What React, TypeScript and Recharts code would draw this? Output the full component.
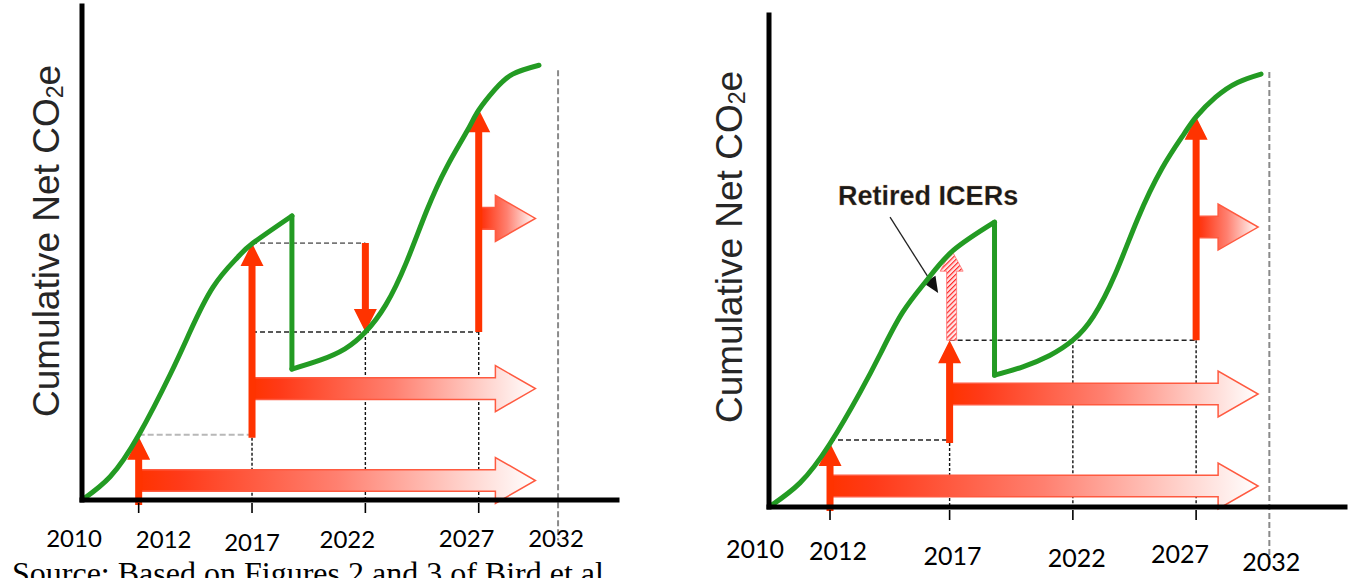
import React from 'react';
import { ComposedChart, Line, XAxis, YAxis, ReferenceLine, ReferenceDot } from 'recharts';

// ---------------- data ----------------
const yearLabels = ['2010', '2012', '2017', '2022', '2027', '2032'];
const leftTickPos = [0, 2.5, 7.5, 12.5, 17.5, 21];
const rightTickPos = [0, 2.5, 7.4, 12.45, 17.5, 20.5];
const tickHasMark = [false, true, true, true, true, false];

const leftRise = [
  { x: 0, y: 0 }, { x: 1.24, y: 4.7 }, { x: 2.51, y: 13.2 }, { x: 3.9, y: 25.5 },
  { x: 4.76, y: 34.0 }, { x: 5.78, y: 43.1 }, { x: 6.84, y: 49.0 }, { x: 7.54, y: 52.0 },
  { x: 9.26, y: 57.5 },
];
const leftDrop = [{ x: 9.26, y: 57.5 }, { x: 9.26, y: 26.5 }];
const leftAfter = [
  { x: 9.26, y: 26.5 }, { x: 10.5, y: 28.3 }, { x: 11.6, y: 30.6 }, { x: 12.5, y: 34.0 },
  { x: 13.4, y: 39.5 }, { x: 14.3, y: 48.0 }, { x: 15.2, y: 58.5 }, { x: 16.1, y: 67.5 },
  { x: 17.0, y: 74.8 }, { x: 17.5, y: 78.9 }, { x: 18.2, y: 83.0 }, { x: 19.0, y: 86.2 },
  { x: 20.16, y: 88.0 },
];

const rightRise = [
  { x: 0, y: 0 }, { x: 1.27, y: 4.9 }, { x: 2.49, y: 12.8 }, { x: 3.72, y: 23.2 },
  { x: 4.58, y: 31.3 }, { x: 5.48, y: 39.6 }, { x: 6.5, y: 46.3 }, { x: 7.56, y: 52.2 },
  { x: 9.24, y: 57.9 },
];
const rightDrop = [{ x: 9.24, y: 57.9 }, { x: 9.24, y: 26.8 }];
const rightAfter = [
  { x: 9.24, y: 26.8 }, { x: 10.4, y: 28.5 }, { x: 11.5, y: 30.8 }, { x: 12.45, y: 33.9 },
  { x: 13.3, y: 38.8 }, { x: 14.2, y: 47.5 }, { x: 15.1, y: 58.5 }, { x: 16.1, y: 68.8 },
  { x: 17.0, y: 75.8 }, { x: 17.5, y: 79.3 }, { x: 18.3, y: 83.3 }, { x: 19.2, y: 86.3 },
  { x: 20.16, y: 88.0 },
];

// vertical arrows: x, from (tail y), to (tip y)
const leftVArrows = [
  { x: 2.5, from: -1, to: 12.8 },
  { x: 7.5, from: 12.6, to: 52 },
  { x: 12.5, from: 52, to: 34 },
  { x: 17.5, from: 34, to: 79.1 },
];
const rightVArrows = [
  { x: 2.5, from: -0.8, to: 13 },
  { x: 7.4, from: 13, to: 33.9 },
  { x: 17.5, from: 33.9, to: 79.3 },
];
const rightRetired = [{ x: 7.4, from: 33.9, to: 52.2 }];

// horizontal flow arrows: y, from (tail x), to (tip x)
const leftFlows = [
  { y: 3.95, from: 2.5, to: 20.0 },
  { y: 22.55, from: 7.5, to: 20.0 },
  { y: 57, from: 17.5, to: 20.0 },
];
const rightFlows = [
  { y: 4.27, from: 2.5, to: 20.04 },
  { y: 22.97, from: 7.4, to: 20.04 },
  { y: 56.9, from: 17.5, to: 20.04 },
];

// guide (dashed) lines
const leftGuides = [
  { x1: 2.5, y1: 13.2, x2: 7.5, y2: 13.2, kind: 'light' },
  { x1: 7.5, y1: 52, x2: 12.5, y2: 52, kind: 'grey' },
  { x1: 7.5, y1: 34, x2: 17.5, y2: 34, kind: 'dark' },
  { x1: 7.5, y1: 12.6, x2: 7.5, y2: 0, kind: 'vert' },
  { x1: 12.5, y1: 34, x2: 12.5, y2: 0, kind: 'vert' },
  { x1: 17.5, y1: 34, x2: 17.5, y2: 0, kind: 'vert' },
  { x1: 21, y1: 87, x2: 21, y2: -8.2, kind: 'end' },
];
const rightGuides = [
  { x1: 2.5, y1: 13.6, x2: 7.4, y2: 13.6, kind: 'dark' },
  { x1: 7.4, y1: 33.9, x2: 17.5, y2: 33.9, kind: 'dark' },
  { x1: 7.4, y1: 13, x2: 7.4, y2: 0, kind: 'vert' },
  { x1: 12.45, y1: 33.9, x2: 12.45, y2: 0, kind: 'vert' },
  { x1: 17.5, y1: 33.9, x2: 17.5, y2: 0, kind: 'vert' },
  { x1: 20.5, y1: 88.4, x2: 20.5, y2: -11.8, kind: 'end' },
];

const retiredLabel = { text: 'Retired ICERs', x: 6.52, y: 63.2 };
const retiredPointer = { x1: 4.96, y1: 58.9, x2: 6.93, y2: 43.5 };
const sourceText = 'Source: Based on Figures 2 and 3 of Bird et al';

// ---------------- styles ----------------
const GREEN = '#239b23';
const RED = '#ff3300';
const guideStyle: Record<string, any> = {
  light: { stroke: '#b8b8b8', strokeWidth: 2, dash: '6 3' },
  grey: { stroke: '#777', strokeWidth: 1.6, dash: '5 3' },
  dark: { stroke: '#222', strokeWidth: 1.5, dash: '5 3' },
  vert: { stroke: '#111', strokeWidth: 1.4, dash: '3 2' },
  end: { stroke: '#8a8a8a', strokeWidth: 2, dash: '6 3' },
};
const leftLabelDx = [-8, 25, 0, -18, -12, -2];
const leftLabelDy = [37, 38, 41, 38, 37, 37];
const rightLabelDx = [-14, 8, 3, 4, -16, 2];
const rightLabelDy = [41, 43, 48, 50, 46, 54];
const AXIS_H = 30;
const AXIS_W = 60;

// ---------------- shapes ----------------
const VArrow = (p: any) => {
  const { x1, y1, y2 } = p;
  const x = x1;
  const w = 3.5, hw = 11.5, hl = 23;
  const s = y2 < y1 ? 1 : -1;
  const hb = y2 + s * hl;
  const d = `M${x - w},${y1} L${x - w},${hb} L${x - hw},${hb} L${x},${y2} L${x + hw},${hb} L${x + w},${hb} L${x + w},${y1} Z`;
  return <path d={d} fill={RED} stroke="none" />;
};

const HatchArrow = (p: any) => {
  const { x1, y1, y2 } = p;
  const x = x1 + 2;
  const w = 5, hw = 11.5, hl = 21;
  const hb = y2 + hl;
  const id = 'hatch-' + Math.round(x) + '-' + Math.round(y2);
  const d = `M${x - w},${y1} L${x - w},${hb} L${x - hw},${hb} L${x},${y2} L${x + hw},${hb} L${x + w},${hb} L${x + w},${y1} Z`;
  return (
    <g>
      <defs>
        <pattern id={id} patternUnits="userSpaceOnUse" width="3.5" height="3.5" patternTransform="rotate(45)">
          <rect width="3.5" height="3.5" fill="#ffe6e6" />
          <line x1="0" y1="0" x2="0" y2="3.5" stroke="#ff2a2a" strokeWidth="2.4" />
        </pattern>
      </defs>
      <path d={d} fill={`url(#${id})`} stroke="#ff7070" strokeWidth={0.8} />
    </g>
  );
};

const FlowArrow = (p: any) => {
  const { x1, y1, x2 } = p;
  const y = y1;
  const s = 10.8, h = 23, hl = 40;
  const hb = x2 - hl;
  const id = 'flow-' + Math.round(x1) + '-' + Math.round(y);
  const d = `M${x1},${y - s} L${hb},${y - s} L${hb},${y - h} L${x2},${y} L${hb},${y + h} L${hb},${y + s} L${x1},${y + s} Z`;
  return (
    <g>
      <defs>
        <linearGradient id={id} gradientUnits="userSpaceOnUse" x1={x1} y1={y} x2={x2} y2={y}>
          <stop offset="0" stopColor="#ff3300" />
          <stop offset="0.1" stopColor="#ff3a18" />
          <stop offset="0.5" stopColor="#ff8070" />
          <stop offset="0.8" stopColor="#ffcdc6" />
          <stop offset="1" stopColor="#ffffff" />
        </linearGradient>
      </defs>
      <path d={d} fill={`url(#${id})`} stroke="#ff5a40" strokeWidth={1.5} />
    </g>
  );
};

const Guide = (kind: string) => (p: any) => {
  const st = guideStyle[kind];
  return <line x1={p.x1} y1={p.y1} x2={p.x2} y2={p.y2} stroke={st.stroke} strokeWidth={st.strokeWidth} strokeDasharray={st.dash} />;
};

const Pointer = (p: any) => {
  const { x1, y1, x2, y2 } = p;
  const ang = Math.atan2(y2 - y1, x2 - x1);
  const L = 16, W = 7;
  const bx = x2 - L * Math.cos(ang), by = y2 - L * Math.sin(ang);
  const nx = -Math.sin(ang) * W, ny = Math.cos(ang) * W;
  return (
    <g>
      <line x1={x1} y1={y1} x2={bx} y2={by} stroke="#222" strokeWidth={1.3} />
      <path d={`M${x2},${y2} L${bx + nx},${by + ny} L${bx - nx},${by - ny} Z`} fill="#111" />
    </g>
  );
};

const LabelShape = (text: string) => (p: any) => (
  <text x={p.cx} y={p.cy} textAnchor="middle" dominantBaseline="central"
    fontFamily="'Liberation Sans', Arial, sans-serif" fontWeight="bold" fontSize={27} fill="#1a1a1a"
    stroke="#d9a066" strokeWidth={0.4} strokeOpacity={0.6}>
    {text}
  </text>
);

const makeTick = (positions: number[], dxs: number[], dys: number[], fontSize: number) => (p: any) => {
  const v = p.payload ? p.payload.value : undefined;
  let i = positions.indexOf(v);
  if (i < 0) i = p.index ?? 0;
  const x = p.x, y = p.y;
  return (
    <g>
      {tickHasMark[i] ? <line x1={x} y1={y + 3} x2={x} y2={y + 13} stroke="#000" strokeWidth={1.6} /> : null}
      <text x={x + dxs[i]} y={y + dys[i]} textAnchor="middle" dominantBaseline="central"
        fontFamily="Lato, 'Open Sans', sans-serif" fontSize={fontSize} fill="#000">
        {yearLabels[i]}
      </text>
    </g>
  );
};

const yTitle = (dx: number, dy: number) => (props: any) => {
  const vb = props.viewBox || { x: 0, y: 0, width: 0, height: 0 };
  const cx = vb.x + dx;
  const cy = vb.y + vb.height / 2 + dy;
  return (
    <text x={cx} y={cy} transform={`rotate(-90 ${cx} ${cy})`} textAnchor="middle" dominantBaseline="central"
      fontFamily="'Liberation Sans', Arial, sans-serif" fontSize={37} fill="#262626">
      Cumulative Net CO<tspan fontSize={23} dy={8}>2</tspan><tspan dy={-8}>e</tspan>
    </text>
  );
};

type PanelProps = {
  left: number; width: number; margin: any; ticks: number[]; dxs: number[]; dys: number[]; fontSize: number;
  titleDx: number; titleDy: number;
  rise: any[]; drop: any[]; after: any[];
  vArrows: any[]; flows: any[]; guides: any[]; retired?: any[]; showRetired?: boolean;
};

const axisLineStyle = { stroke: '#000', strokeWidth: 5, strokeLinecap: 'square' as const };

function Panel(props: PanelProps) {
  const { left, width, margin, ticks, dxs, dys, fontSize, titleDx, titleDy, rise, drop, after, vArrows, flows, guides, retired, showRetired } = props;
  return (
    <div style={{ position: 'absolute', left, top: 0 }}>
      <ComposedChart width={width} height={578} margin={margin}>
        <XAxis type="number" dataKey="x" domain={[0, 23.6]} ticks={ticks} interval={0} allowDataOverflow
          height={AXIS_H} tickSize={0} tickMargin={0} tickLine={false} axisLine={axisLineStyle}
          tick={makeTick(ticks, dxs, dys, fontSize)} />
        <YAxis type="number" domain={[0, 100]} width={AXIS_W} tick={false} tickLine={false} allowDataOverflow
          axisLine={axisLineStyle} label={{ content: yTitle(titleDx, titleDy) }} />
        {guides.map((g, i) => (
          <ReferenceLine key={'g' + i} segment={[{ x: g.x1, y: g.y1 }, { x: g.x2, y: g.y2 }]} ifOverflow="visible" shape={Guide(g.kind)} />
        ))}
        {flows.map((f, i) => (
          <ReferenceLine key={'f' + i} segment={[{ x: f.from, y: f.y }, { x: f.to, y: f.y }]} ifOverflow="visible" shape={FlowArrow} />
        ))}
        {vArrows.map((a, i) => (
          <ReferenceLine key={'v' + i} segment={[{ x: a.x, y: a.from }, { x: a.x, y: a.to }]} ifOverflow="visible" shape={VArrow} />
        ))}
        {(retired || []).map((a, i) => (
          <ReferenceLine key={'r' + i} segment={[{ x: a.x, y: a.from }, { x: a.x, y: a.to }]} ifOverflow="visible" shape={HatchArrow} />
        ))}
        {showRetired ? (
          <ReferenceLine segment={[{ x: retiredPointer.x1, y: retiredPointer.y1 }, { x: retiredPointer.x2, y: retiredPointer.y2 }]} ifOverflow="visible" shape={Pointer} />
        ) : null}
        {showRetired ? (
          <ReferenceDot x={retiredLabel.x} y={retiredLabel.y} r={0} ifOverflow="visible" shape={LabelShape(retiredLabel.text)} />
        ) : null}
        <Line data={rise} dataKey="y" type="natural" stroke={GREEN} strokeWidth={5} dot={false} activeDot={false} isAnimationActive={false} strokeLinecap="round" strokeLinejoin="round" />
        <Line data={drop} dataKey="y" type="linear" stroke={GREEN} strokeWidth={5} dot={false} activeDot={false} isAnimationActive={false} strokeLinecap="round" strokeLinejoin="round" />
        <Line data={after} dataKey="y" type="natural" stroke={GREEN} strokeWidth={5} dot={false} activeDot={false} isAnimationActive={false} strokeLinecap="round" strokeLinejoin="round" />
      </ComposedChart>
    </div>
  );
}

export default function App() {
  return (
    <div style={{ position: 'absolute', left: 0, top: 0, width: 1350, height: 578, background: '#fff', overflow: 'hidden' }}>
      <Panel left={0} width={640} margin={{ top: 6, left: 82 - AXIS_W, right: 23, bottom: 78 - AXIS_H }}
        ticks={leftTickPos} dxs={leftLabelDx} dys={leftLabelDy} fontSize={24} titleDx={46.5 - (82 - AXIS_W)} titleDy={-12}
        rise={leftRise} drop={leftDrop} after={leftAfter} vArrows={leftVArrows} flows={leftFlows} guides={leftGuides} />
      <Panel left={680} width={670} margin={{ top: 15, left: 89 - AXIS_W, right: 5, bottom: 71 - AXIS_H }}
        ticks={rightTickPos} dxs={rightLabelDx} dys={rightLabelDy} fontSize={25} titleDx={49 - (89 - AXIS_W)} titleDy={-14}
        rise={rightRise} drop={rightDrop} after={rightAfter} vArrows={rightVArrows} flows={rightFlows} guides={rightGuides}
        retired={rightRetired} showRetired />
      <svg width={1350} height={578} style={{ position: 'absolute', left: 0, top: 0, pointerEvents: 'none' }}>
        <text x={12} y={584} fontFamily="'Liberation Serif', 'Times New Roman', serif" fontSize={32} fill="#000">
          {sourceText}
        </text>
      </svg>
    </div>
  );
}
